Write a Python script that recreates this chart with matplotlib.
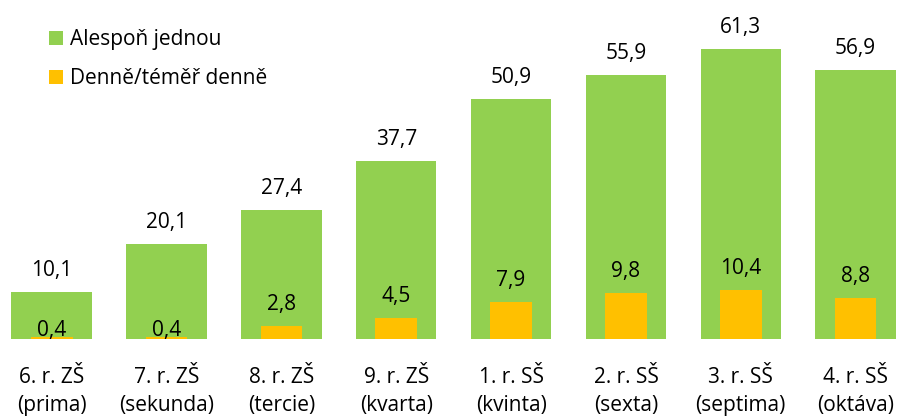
import numpy as np
import matplotlib
matplotlib.use("Agg")
import matplotlib.pyplot as plt

plt.rcParams['font.family'] = ['Open Sans', 'DejaVu Sans']

# data
categories = ["6. r. ZŠ\n(prima)", "7. r. ZŠ\n(sekunda)", "8. r. ZŠ\n(tercie)",
              "9. r. ZŠ\n(kvarta)", "1. r. SŠ\n(kvinta)", "2. r. SŠ\n(sexta)",
              "3. r. SŠ\n(septima)", "4. r. SŠ\n(oktáva)"]
at_least_once = [10.1, 20.1, 27.4, 37.7, 50.9, 55.9, 61.3, 56.9]
daily = [0.4, 0.4, 2.8, 4.5, 7.9, 9.8, 10.4, 8.8]

green = '#92D050'
orange = '#FFC000'
fs = 15

fig = plt.figure(figsize=(8.97, 4.17), dpi=100)
ax = fig.add_axes([0, 0.1863, 1, 0.794])

x = np.arange(len(categories))
b1 = ax.bar(x, at_least_once, width=0.70, color=green, label='Alespoň jednou')
b2 = ax.bar(x, daily, width=0.363, color=orange, label='Denně/téměř denně')

def fmt(v):
    return f"{v:.1f}".replace('.', ',')

for xi, v in zip(x, at_least_once):
    ax.annotate(fmt(v), (xi, v), xytext=(0, 11.5), textcoords='offset points',
                ha='center', va='baseline', fontsize=fs)
for xi, v in zip(x, daily):
    off = 11.5 if v >= 1 else 1
    ax.annotate(fmt(v), (xi, v), xytext=(0, off), textcoords='offset points',
                ha='center', va='baseline', fontsize=fs)

ax.set_xlim(-0.45, 7.36)
ax.set_ylim(0, 70)
ax.set_xticks(x)
ax.set_xticklabels(categories, fontsize=fs, linespacing=1.45)
ax.tick_params(axis='x', length=0, pad=20)
ax.set_yticks([])
for s in ax.spines.values():
    s.set_visible(False)

ax.legend(loc='upper left', bbox_to_anchor=(0.055, 0.93), bbox_transform=fig.transFigure,
          frameon=False, fontsize=fs, handlelength=0.65, handleheight=0.65,
          handletextpad=0.35, labelspacing=0.85, borderpad=0, borderaxespad=0)

fig.savefig('out.png', dpi=100)
